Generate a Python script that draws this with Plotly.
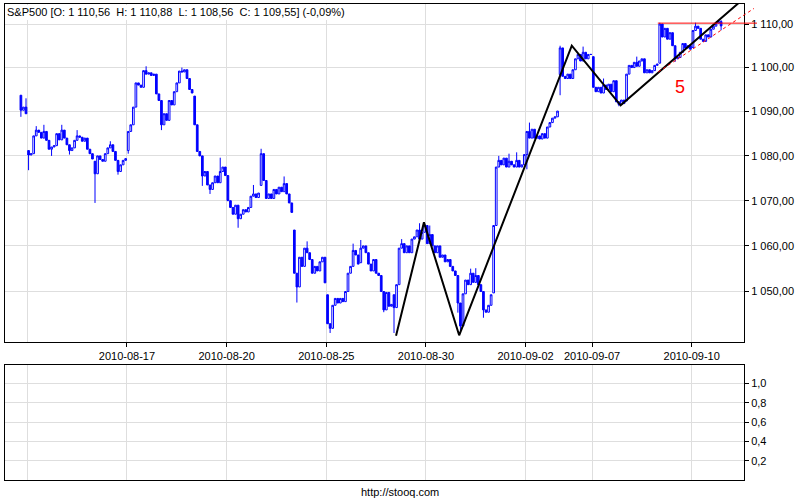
import math
import plotly.graph_objects as go

# ---------------- data ----------------
TICK_DAYS = [3, 6, 9, 12, 15, 17, 20]
TICK_LABELS = ["2010-08-17", "2010-08-20", "2010-08-25", "2010-08-30",
               "2010-09-02", "2010-09-07", "2010-09-10"]
EXTRA_GRID_DAYS = [0]

PRICE_TICKS = [1050, 1060, 1070, 1080, 1090, 1100, 1110]
PRICE_TICK_TEXT = ["1 050,00", "1 060,00", "1 070,00", "1 080,00", "1 090,00",
                   "1 100,00", "1 110,00"]
LOWER_TICKS = [0.2, 0.4, 0.6, 0.8, 1.0]
LOWER_TICK_TEXT = ["0,2", "0,4", "0,6", "0,8", "1,0"]

BARS_PER_DAY = 13
# trading-day index (0 = 2010-08-12), first 30-min bar slot shown, opening price
DAY_INDEX = [-1, 0, 1, 2, 3, 4, 5, 6, 7, 8, 9, 10, 11, 12, 13, 14, 15, 16, 17, 18, 19, 20]
DAY_FIRST_BAR = [10] + [0] * 21
DAY_OPENS = [1093.7, 1081.2, 1083.6, 1078.8, 1081.2, 1092.5, 1093.5, 1075.6, 1073.4,
             1063.5, 1049.3, 1056.3, 1049.3, 1064.5, 1047.5, 1049.7, 1080.3, 1098.4,
             1102.5, 1092.4, 1101.0, 1104.6]

c_0811 = [1090.3, 1091.0, 1089.5]
c_0812 = [1080.2, 1080.5, 1084.5, 1085.8, 1085.3, 1084.0, 1085.5, 1083.5, 1081.5, 1082.0, 1082.3, 1085.0, 1083.6]
c_0813 = [1085.8, 1084.0, 1082.5, 1081.2, 1081.8, 1083.5, 1084.5, 1084.2, 1083.3, 1084.0, 1081.5, 1080.5, 1079.3]
c_0816 = [1076.0, 1080.0, 1079.2, 1078.8, 1080.5, 1081.8, 1082.5, 1081.0, 1079.0, 1076.5, 1078.0, 1079.0, 1079.4]
c_0817 = [1085.5, 1087.0, 1091.0, 1096.5, 1096.0, 1095.5, 1099.3, 1098.5, 1098.8, 1098.2, 1098.5, 1094.0, 1092.5]
c_0818 = [1087.0, 1089.5, 1088.0, 1092.5, 1091.5, 1094.5, 1096.5, 1099.2, 1099.0, 1099.5, 1097.5, 1095.0, 1094.2]
c_0819 = [1087.0, 1081.0, 1080.0, 1075.5, 1076.5, 1073.5, 1072.5, 1074.0, 1075.5, 1074.0, 1076.5, 1077.5, 1075.6]
c_0820 = [1070.0, 1068.5, 1067.0, 1069.0, 1066.0, 1067.0, 1068.0, 1067.5, 1068.5, 1071.0, 1071.5, 1070.7, 1071.7]
c_0823 = [1080.5, 1074.5, 1070.5, 1071.5, 1070.5, 1072.5, 1071.5, 1073.0, 1072.0, 1073.8, 1071.5, 1069.5, 1067.4]
c_0824 = [1054.0, 1051.0, 1057.5, 1055.5, 1059.5, 1058.5, 1057.0, 1054.0, 1055.5, 1054.5, 1056.5, 1057.5, 1051.9]
c_0825 = [1043.0, 1042.0, 1047.0, 1048.5, 1047.5, 1048.5, 1047.8, 1050.0, 1054.0, 1055.5, 1059.0, 1058.0, 1056.0]
c_0826 = [1059.5, 1060.0, 1058.5, 1056.0, 1054.5, 1057.0, 1054.0, 1053.5, 1050.0, 1046.0, 1049.8, 1046.8, 1047.2]
c_0827 = [1046.5, 1051.5, 1059.5, 1060.5, 1058.5, 1060.0, 1058.5, 1061.5, 1062.0, 1063.5, 1061.5, 1063.0, 1064.6]
c_0830 = [1060.5, 1062.5, 1060.0, 1058.5, 1060.0, 1057.5, 1058.0, 1056.5, 1057.0, 1055.5, 1054.5, 1053.5, 1047.5]
c_0831 = [1042.5, 1049.5, 1052.5, 1051.5, 1054.0, 1052.0, 1053.5, 1051.5, 1050.0, 1046.0, 1045.5, 1047.0, 1049.3]
c_0901 = [1064.5, 1077.5, 1079.0, 1078.0, 1079.5, 1077.5, 1078.8, 1078.0, 1077.5, 1079.0, 1077.5, 1078.0, 1080.3]
c_0902 = [1085.5, 1084.0, 1086.0, 1084.0, 1084.5, 1083.8, 1085.0, 1084.0, 1086.5, 1087.5, 1088.5, 1088.8, 1090.1]
c_0903 = [1104.5, 1098.0, 1097.5, 1098.5, 1097.5, 1099.5, 1102.0, 1103.0, 1101.5, 1103.5, 1102.0, 1103.0, 1103.0]
c_0907 = [1095.5, 1094.5, 1095.5, 1094.2, 1096.0, 1095.0, 1096.2, 1094.5, 1097.0, 1092.2, 1091.6, 1092.6, 1091.8]
c_0908 = [1098.5, 1100.5, 1100.0, 1101.2, 1100.3, 1101.5, 1102.0, 1098.8, 1099.5, 1098.8, 1099.3, 1100.5, 1100.8]
c_0909 = [1110.0, 1107.0, 1109.0, 1106.5, 1108.0, 1105.0, 1102.0, 1102.3, 1103.5, 1105.5, 1104.5, 1105.0, 1104.2]
c_0910 = [1108.5, 1109.5, 1109.0, 1106.5, 1106.0, 1107.5, 1107.0, 1108.8, 1109.5, 1110.2, 1110.56, 1109.55]

CLOSES_BY_DAY = [c_0811, c_0812, c_0813, c_0816, c_0817, c_0818, c_0819, c_0820, c_0823,
                 c_0824, c_0825, c_0826, c_0827, c_0830, c_0831, c_0901, c_0902, c_0903,
                 c_0907, c_0908, c_0909, c_0910]

# notable wick extremes: (day, bar slot) -> price
WICK_HIGH = {(-1, 12): 1093.0, (0, 3): 1086.7, (0, 6): 1087.0, (1, 0): 1087.0, (1, 6): 1085.8,
             (2, 6): 1083.3, (3, 7): 1100.3, (4, 8): 1100.0, (5, 10): 1079.6, (6, 10): 1073.5,
             (7, 0): 1081.6, (7, 9): 1075.4, (8, 5): 1061.0, (9, 10): 1060.5, (10, 0): 1061.3,
             (11, 3): 1061.5, (11, 10): 1065.0, (12, 1): 1064.5, (13, 4): 1055.0, (13, 6): 1055.1,
             (14, 2): 1080.0, (14, 6): 1080.5, (14, 9): 1080.8, (15, 1): 1087.5, (16, 0): 1105.0,
             (16, 9): 1104.8, (17, 4): 1097.5, (18, 4): 1102.5, (19, 0): 1110.3, (20, 1): 1110.3,
             (20, 10): 1110.9, (20, 11): 1110.88}
WICK_LOW = {(-1, 10): 1088.8, (0, 0): 1076.8, (0, 9): 1080.0, (1, 3): 1080.3, (2, 0): 1069.5,
            (2, 9): 1075.8, (3, 0): 1080.5, (4, 0): 1085.8, (5, 3): 1073.3, (5, 6): 1071.5,
            (6, 4): 1064.0, (8, 1): 1047.6, (9, 1): 1041.0, (10, 9): 1045.5, (11, 0): 1041.0,
            (12, 12): 1045.4, (13, 0): 1041.0, (13, 9): 1044.3, (15, 0): 1077.0, (16, 0): 1093.7,
            (17, 10): 1091.2, (19, 6): 1101.3, (20, 11): 1108.56}

# drawn analysis lines (trading-day units, price)
ZIGZAG_X = [11.10, 11.94, 13.00, 16.39, 17.86, 21.42]
ZIGZAG_Y = [1040.4, 1065.2, 1040.5, 1105.0, 1091.4, 1114.9]
RESIST_X = [18.98, 21.965]
RESIST_Y = [1110.2, 1110.2]
TREND_X = [18.99, 21.875]
TREND_Y = [1099.0, 1113.6]
WAVE_LABEL = ("5", 19.66, 1095.6)

TITLE = "S&P500 [O: 1 110,56  H: 1 110,88  L: 1 108,56  C: 1 109,55] (-0,09%)"

# ---------------- build bars ----------------
xs, op, hi, lo, cl = [], [], [], [], []
for di, day in enumerate(DAY_INDEX):
    prev = DAY_OPENS[di]
    for j, close in enumerate(CLOSES_BY_DAY[di]):
        k = DAY_FIRST_BAR[di] + j
        o = prev
        xs.append(day + (k + 0.5) / BARS_PER_DAY)
        op.append(o)
        cl.append(close)
        hi.append(max(o, close, WICK_HIGH.get((day, k), -1e9)))
        lo.append(min(o, close, WICK_LOW.get((day, k), 1e9)))
        prev = close

W, H = 800, 500
XR = [-0.671, 21.574]
YR = [math.log10(1039.05), math.log10(1114.62)]
XDOM = [5 / W, 744 / W]


def xpaper(d):
    return XDOM[0] + (d - XR[0]) / (XR[1] - XR[0]) * (XDOM[1] - XDOM[0])


FONT = "Liberation Sans, Arial, sans-serif"
BLUE = "#0000FF"
GRID = "#DEDEDE"

fig = go.Figure()
fig.add_trace(go.Candlestick(
    x=xs, open=op, high=hi, low=lo, close=cl,
    increasing=dict(line=dict(color=BLUE, width=1), fillcolor="white"),
    decreasing=dict(line=dict(color=BLUE, width=1), fillcolor=BLUE),
    whiskerwidth=0, showlegend=False, hoverinfo="skip",
    xaxis="x", yaxis="y"))

fig.add_trace(go.Scatter(x=ZIGZAG_X, y=ZIGZAG_Y, mode="lines",
                         line=dict(color="black", width=2), showlegend=False,
                         hoverinfo="skip", xaxis="x", yaxis="y"))

fig.add_trace(go.Scatter(x=[], y=[], xaxis="x2", yaxis="y2", showlegend=False))

# red resistance and trend lines (extend slightly beyond the right axis)
fig.add_shape(type="line", xref="paper", yref="y",
              x0=xpaper(RESIST_X[0]), x1=xpaper(RESIST_X[1]),
              y0=RESIST_Y[0], y1=RESIST_Y[1],
              line=dict(color="#FF0000", width=1), layer="above")
fig.add_shape(type="line", xref="paper", yref="y",
              x0=xpaper(TREND_X[0]), x1=xpaper(TREND_X[1]),
              y0=TREND_Y[0], y1=TREND_Y[1],
              line=dict(color="#FF0000", width=1, dash="dot"), layer="above")

# white title box
fig.add_shape(type="rect", xref="paper", yref="paper",
              x0=6 / W, x1=345 / W, y0=1 - 20 / H, y1=1 - 5 / H,
              fillcolor="white", line=dict(width=0), layer="above")

fig.add_annotation(text=TITLE, xref="paper", yref="paper", x=5 / W, y=1 - 12 / H,
                   xanchor="left", yanchor="middle", showarrow=False,
                   font=dict(family=FONT, size=11, color="black"))
fig.add_annotation(text=WAVE_LABEL[0], xref="x", yref="y", x=WAVE_LABEL[1],
                   y=math.log10(WAVE_LABEL[2]), showarrow=False,
                   font=dict(family=FONT, size=18, color="#FF0000"))
fig.add_annotation(text="http://stooq.com", xref="paper", yref="paper", x=0.5,
                   y=1 - 492 / H, xanchor="center", yanchor="middle", showarrow=False,
                   font=dict(family=FONT, size=11, color="black"))

axis_common = dict(showline=True, mirror=True, linecolor="black", linewidth=1,
                   gridcolor=GRID, zeroline=False, tickcolor="black",
                   tickfont=dict(family=FONT, size=11, color="black"))
minor_grid = dict(tickvals=EXTRA_GRID_DAYS, showgrid=True, gridcolor=GRID,
                  gridwidth=1, ticks="")

fig.update_layout(
    width=W, height=H, margin=dict(l=0, r=0, t=0, b=0),
    paper_bgcolor="white", plot_bgcolor="white", boxgap=0.05,
    showlegend=False,
    xaxis=dict(domain=XDOM, range=XR, anchor="y", tickmode="array",
               tickvals=TICK_DAYS, ticktext=TICK_LABELS, ticks="outside", ticklen=4,
               showgrid=True, minor=minor_grid,
               rangeslider=dict(visible=False), **axis_common),
    yaxis=dict(domain=[1 - 342 / H, 1 - 4 / H], type="log", range=YR, side="right",
               anchor="x", tickmode="array", tickvals=PRICE_TICKS,
               ticktext=PRICE_TICK_TEXT, ticks="outside", ticklen=4, showgrid=True,
               **axis_common),
    xaxis2=dict(domain=XDOM, range=XR, anchor="y2", matches="x", tickmode="array",
                tickvals=TICK_DAYS, showticklabels=False, ticks="", showgrid=True,
                minor=minor_grid, **axis_common),
    yaxis2=dict(domain=[1 - 480 / H, 1 - 365 / H], range=[0, 1.19], side="right",
                anchor="x2", tickmode="array", tickvals=LOWER_TICKS,
                ticktext=LOWER_TICK_TEXT, ticks="outside", ticklen=4, showgrid=True,
                **axis_common),
)

fig.write_html("out.html", config={"displayModeBar": False},
               post_script="document.body.style.margin='0';"
                           "document.body.style.overflow='hidden';")
